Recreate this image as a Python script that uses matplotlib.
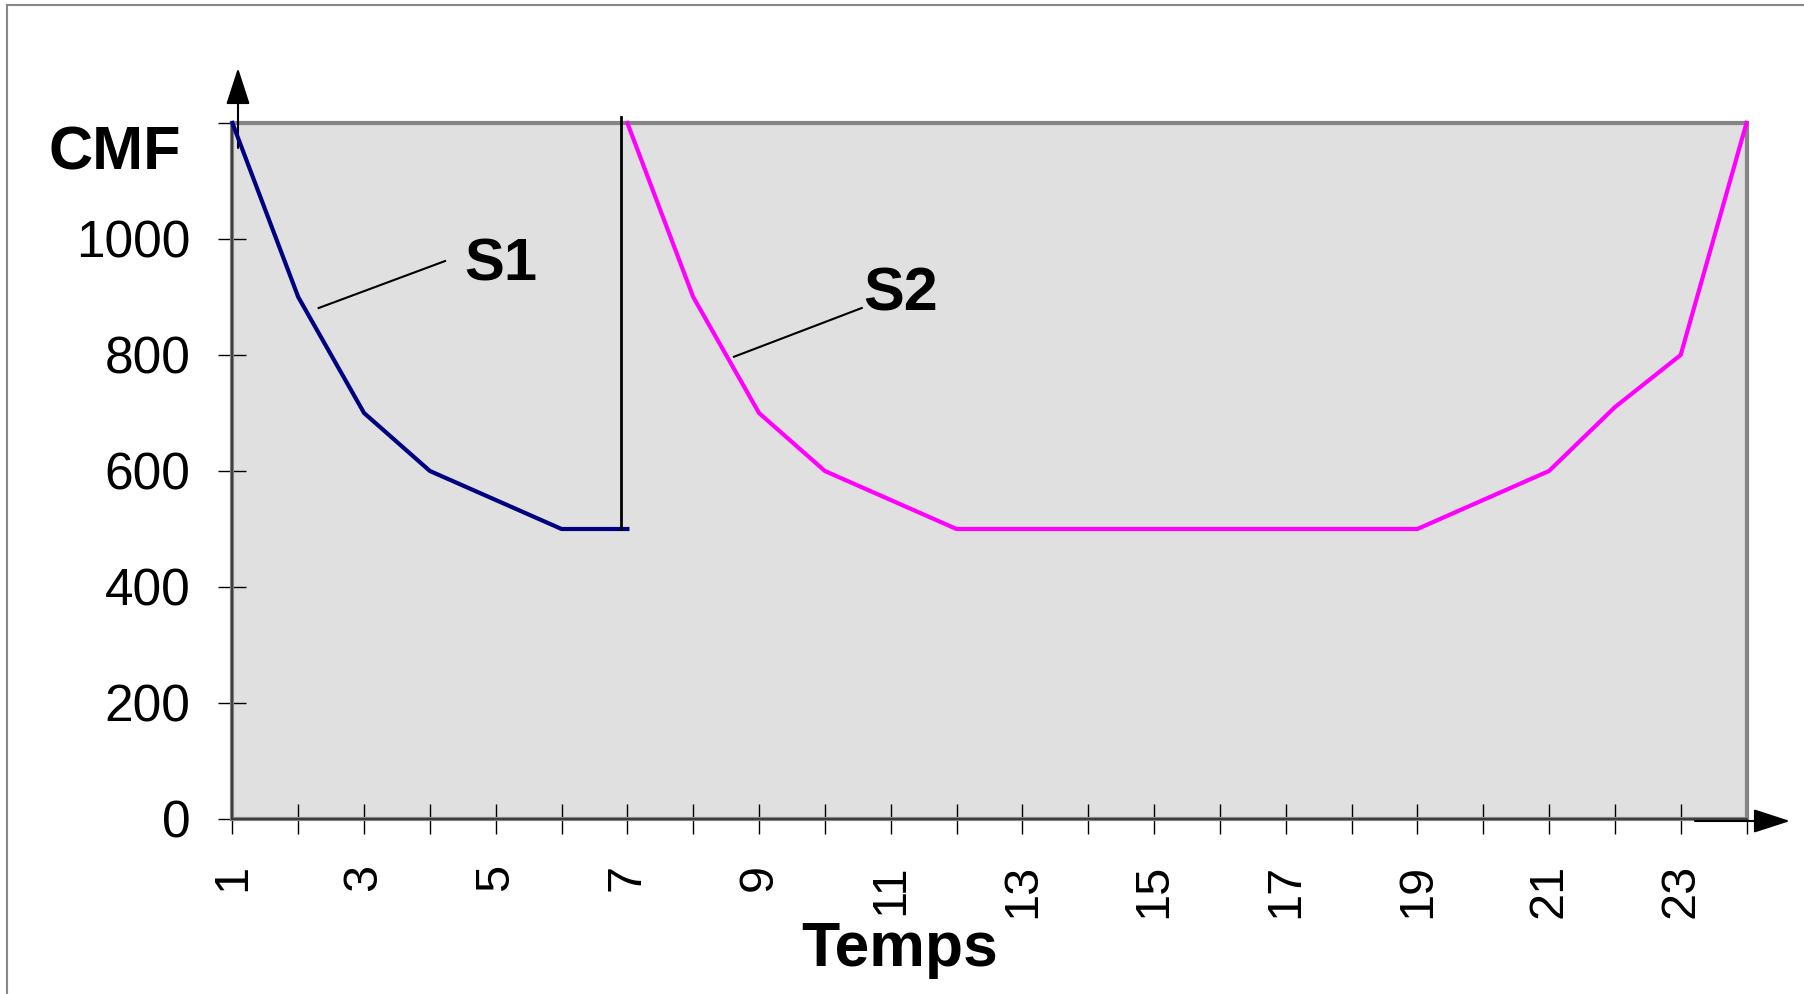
import matplotlib.pyplot as plt
from matplotlib.lines import Line2D

# series
s1_t = [1, 2, 3, 4, 5, 6, 7]
s1_cmf = [1200, 900, 700, 600, 550, 500, 500]
s2_t = [7, 8, 9, 10, 11, 12, 13, 14, 15, 16, 17, 18, 19, 20, 21, 22, 23, 24]
s2_cmf = [1200, 900, 700, 600, 550, 500, 500, 500, 500, 500, 500, 500, 500,
          550, 600, 710, 800, 1200]
split_t = 6.91
xticks = list(range(1, 25))
xlabels = [str(i) if i % 2 == 1 else '' for i in xticks]
yticks = [0, 200, 400, 600, 800, 1000, 1200]
ylabels = ['0', '200', '400', '600', '800', '1000', '']

narrow = ['Liberation Sans Narrow', 'Liberation Sans', 'DejaVu Sans']
plt.rcParams['font.family'] = ['Liberation Sans', 'DejaVu Sans']

W, H = 1804, 994
fig = plt.figure(figsize=(W/100, H/100), dpi=100)
L, R, T, B = 232.4, 1746.5, 123, 819
ax = fig.add_axes([L/W, 1-B/H, (R-L)/W, (B-T)/H])
ax.set_facecolor('#e0e0e0')

ax.plot(s1_t, s1_cmf, color='#000080', lw=3, zorder=5, clip_on=False)
ax.plot(s2_t, s2_cmf, color='#ff00ff', lw=3, zorder=5, clip_on=False)
ax.plot([split_t, split_t], [500, 1210], color='black', lw=2, zorder=6, clip_on=False)

ax.set_xlim(1, 24)
ax.set_ylim(0, 1200)
for s in ax.spines.values():
    s.set_color('#858585')
    s.set_linewidth(3)
ax.axhline(0, color='#303030', lw=1.2, zorder=4, clip_on=False)
ax.axvline(1, color='#303030', lw=1.2, zorder=4, clip_on=False)

ax.set_xticks(xticks)
ax.set_xticklabels(xlabels, family=narrow, fontsize=35, rotation=90)
ax.set_yticks(yticks)
ax.set_yticklabels(ylabels, family=narrow, fontsize=37)
ax.tick_params(axis='x', direction='inout', length=21, width=1, pad=22)
ax.tick_params(axis='y', direction='inout', length=20, width=1, pad=20)

# labels S1 / S2 with leader lines
ax.plot([2.31, 4.23], [881, 962], color='black', lw=1.5, zorder=6)
ax.text(4.52, 955, 'S1', fontsize=43, fontweight='bold', va='center', ha='left')
ax.plot([8.62, 10.56], [797, 881], color='black', lw=1.5, zorder=6)
ax.text(10.59, 903, 'S2', fontsize=44, fontweight='bold', va='center', ha='left')

fig.text(115/W, 1-169/H, 'CMF', fontsize=44, fontweight='bold', ha='center', va='baseline')
fig.text(900/W, 1-966/H, 'Temps', fontsize=45, fontweight='bold', ha='center', va='baseline')

# axis arrows
arr = dict(arrowstyle='-|>,head_length=0.4,head_width=0.13', color='black',
           lw=1.5, mutation_scale=57, shrinkA=0, shrinkB=0)
ax.annotate('', xy=(238, H-68), xytext=(238, H-148), xycoords='figure pixels',
            textcoords='figure pixels', arrowprops=arr, annotation_clip=False)
ax.annotate('', xy=(1790, H-821), xytext=(1695, H-821), xycoords='figure pixels',
            textcoords='figure pixels', arrowprops=arr, annotation_clip=False)

# outer frame
fig.add_artist(Line2D([7/W, 7/W], [0, 1-5/H], transform=fig.transFigure, color='#888888', lw=1.5))
fig.add_artist(Line2D([7/W, 1], [1-5/H, 1-5/H], transform=fig.transFigure, color='#888888', lw=1.5))

fig.savefig('out.png', dpi=100)
